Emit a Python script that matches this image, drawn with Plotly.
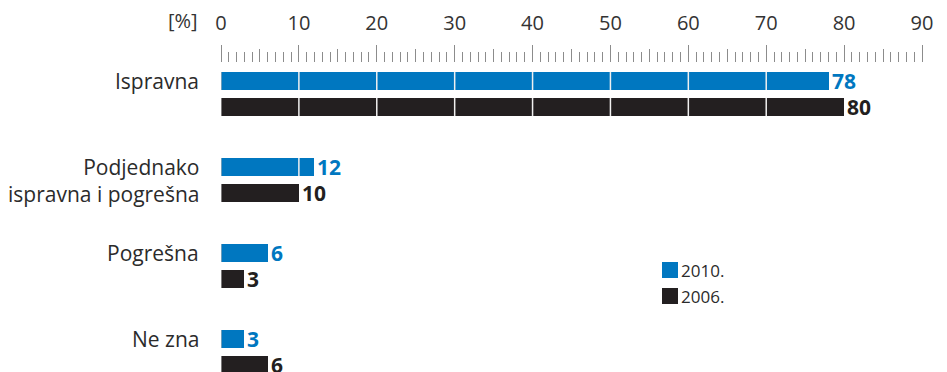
import plotly.graph_objects as go

# Survey answers and shares (%) for the two survey years
categories = ["Ispravna", "Podjednako<br>ispravna i pogrešna", "Pogrešna", "Ne zna"]
values_2010 = [78, 12, 6, 3]
values_2006 = [80, 10, 3, 6]
series_names = ["2010.", "2006."]
tick_values = [0, 10, 20, 30, 40, 50, 60, 70, 80, 90]
half_ticks = [5, 15, 25, 35, 45, 55, 65, 75, 85]

BLUE = "#0077c0"
BLACK = "#231f20"
TICK_GREY = "#8c8c8c"
FONT = "Open Sans"
W, H = 947, 372
M_L, M_R, M_T, M_B = 221, 25, 63, 0
X_RANGE = [0, 90]

# Vertical layout in group units: each answer occupies one unit,
# the two years sit above and below the group centre.
offset = 0.151
bar_w = 0.209
y_2010 = [i - offset for i in range(len(categories))]
y_2006 = [i + offset for i in range(len(categories))]

fig = go.Figure()
for name, ys, vals, col in [
    (series_names[0], y_2010, values_2010, BLUE),
    (series_names[1], y_2006, values_2006, BLACK),
]:
    fig.add_trace(go.Bar(
        name=name, y=ys, x=vals, orientation="h", width=bar_w,
        marker=dict(color=col, line=dict(width=0)),
        text=[str(v) for v in vals], textposition="outside",
        constraintext="none",
        textfont=dict(family=FONT, size=21, color=col, weight="bold"),
        cliponaxis=False, showlegend=False,
    ))

# Empty trace that carries the secondary ruler axis (half-decade ticks)
fig.add_trace(go.Scatter(x=[], y=[], xaxis="x2", yaxis="y",
                         showlegend=False, hoverinfo="skip"))

# White separators every 10 % across each bar, and a light base line at 0
shapes = []
for ys, vals in [(y_2010, values_2010), (y_2006, values_2006)]:
    for y, v in zip(ys, vals):
        shapes.append(dict(type="line", xref="x", yref="y", x0=0, x1=0,
                           y0=y - bar_w / 2, y1=y + bar_w / 2,
                           line=dict(color="#b5b5b5", width=1.2)))
        for t in tick_values[1:]:
            if t < v:
                shapes.append(dict(type="line", xref="x", yref="y", x0=t, x1=t,
                                   y0=y - bar_w / 2, y1=y + bar_w / 2,
                                   line=dict(color="#f0f0f0", width=1.5)))

# Category labels to the left of the bars
annotations = []
for i, cat in enumerate(categories):
    y = i if "<br>" in cat else y_2010[i]
    annotations.append(dict(
        text=cat, x=0, y=y, xref="x", yref="y", xanchor="right", yanchor="middle",
        xshift=-20, showarrow=False, align="right",
        font=dict(family=FONT, size=21, color="#2b2b2b"),
    ))
annotations.append(dict(
    text="[%]", x=0, y=1, xref="x", yref="paper", xanchor="right", yanchor="bottom",
    xshift=-21, yshift=27, showarrow=False,
    font=dict(family=FONT, size=20, color="#333333"),
))


# Key: coloured squares with the year next to them (positions in page pixels)
def px_x(px):
    return (px - M_L) / (W - M_L - M_R)


def px_y(py):
    return (H - M_B - py) / (H - M_T - M_B)


key_left, key_top, key_size, key_step = 662, 262, 16, 26
for k, (name, col) in enumerate(zip(series_names, [BLUE, BLACK])):
    top = key_top + k * key_step
    shapes.append(dict(type="rect", xref="paper", yref="paper",
                       x0=px_x(key_left), x1=px_x(key_left + key_size),
                       y0=px_y(top + key_size), y1=px_y(top),
                       fillcolor=col, line=dict(width=0)))
    annotations.append(dict(
        text=name, xref="paper", yref="paper",
        x=px_x(key_left + key_size + 1), y=px_y(top + key_size / 2),
        xanchor="left", yanchor="middle", showarrow=False,
        font=dict(family=FONT, size=17, color="#2b2b2b"),
    ))

fig.update_layout(
    width=W, height=H,
    margin=dict(l=M_L, r=M_R, t=M_T, b=M_B),
    paper_bgcolor="white", plot_bgcolor="white",
    showlegend=False,
    shapes=shapes,
    annotations=annotations,
    bargap=0,
    xaxis=dict(
        side="top", range=X_RANGE, tickvals=tick_values,
        ticks="outside", ticklen=17, tickwidth=1, tickcolor=TICK_GREY,
        ticklabelstandoff=7,
        tickfont=dict(family=FONT, size=20, color="#333333"),
        showgrid=False, zeroline=False, showline=False,
        minor=dict(dtick=1, ticks="outside", ticklen=10, tickwidth=1,
                   tickcolor=TICK_GREY, showgrid=False),
    ),
    xaxis2=dict(
        overlaying="x", anchor="y", side="top", range=X_RANGE,
        tickvals=half_ticks, ticks="outside", ticklen=13, tickwidth=1,
        tickcolor=TICK_GREY, showticklabels=False, showgrid=False,
        zeroline=False, showline=False,
    ),
    yaxis=dict(
        range=[3.2326, -0.3605], showticklabels=False, showgrid=False,
        zeroline=False, showline=False, ticks="",
    ),
)

fig.write_html("out.html")
